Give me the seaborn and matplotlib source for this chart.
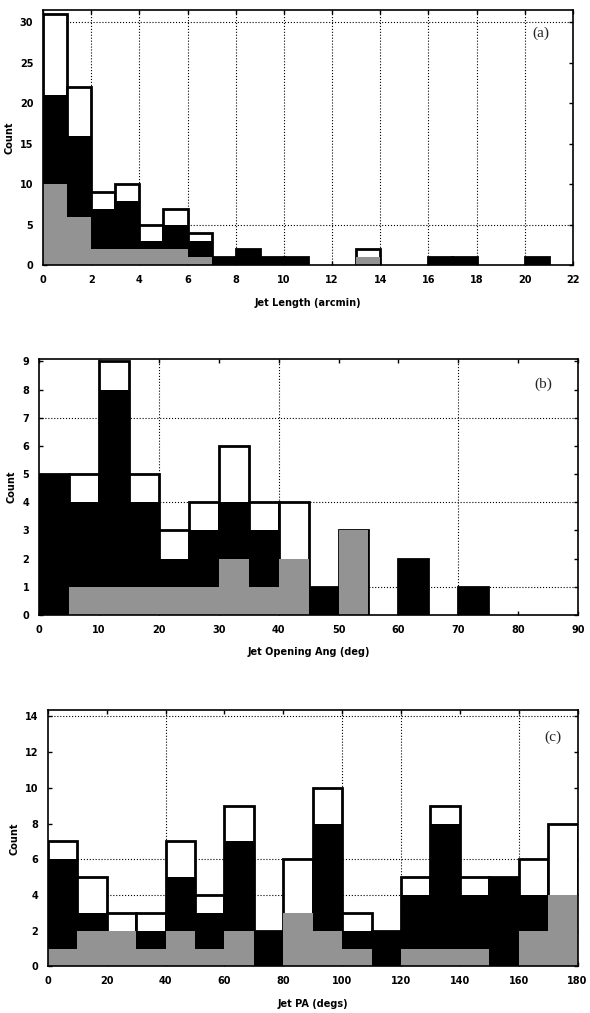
import numpy as np
import pandas as pd
import seaborn as sns
import matplotlib.pyplot as plt

# bin edges for each panel
len_edges = [0, 1, 2, 3, 4, 5, 6, 7, 8, 9, 10, 11, 12, 13, 14, 15, 16, 17, 18, 19, 20, 21, 22]
ang_edges = [0, 5, 10, 15, 20, 25, 30, 35, 40, 45, 50, 55, 60, 65, 70, 75, 80, 85, 90]
pa_edges = [0, 10, 20, 30, 40, 50, 60, 70, 80, 90, 100, 110, 120, 130, 140, 150, 160, 170, 180]

# (a) jet length counts
len_total = [31, 22, 9, 10, 5, 7, 4, 1, 2, 1, 1, 0, 0, 2, 0, 0, 1, 1, 0, 0, 1, 0]
len_black = [21, 16, 7, 8, 3, 5, 3, 1, 2, 1, 1, 0, 0, 1, 0, 0, 1, 1, 0, 0, 1, 0]
len_grey = [10, 6, 2, 2, 2, 2, 1, 0, 0, 0, 0, 0, 0, 1, 0, 0, 0, 0, 0, 0, 0, 0]

# (b) opening angle counts
ang_total = [5, 5, 9, 5, 3, 4, 6, 4, 4, 1, 3, 0, 2, 0, 1, 0, 0, 0]
ang_black = [5, 4, 8, 4, 2, 3, 4, 3, 2, 1, 0, 0, 2, 0, 1, 0, 0, 0]
ang_grey = [0, 1, 1, 1, 1, 1, 2, 1, 2, 0, 3, 0, 0, 0, 0, 0, 0, 0]

# (c) position angle counts
pa_total = [7, 5, 3, 3, 7, 4, 9, 2, 6, 10, 3, 2, 5, 9, 5, 5, 6, 8]
pa_black = [6, 3, 1, 2, 5, 3, 7, 2, 3, 8, 2, 2, 4, 8, 4, 5, 4, 4]
pa_grey = [1, 2, 2, 1, 2, 1, 2, 0, 3, 2, 1, 0, 1, 1, 1, 0, 2, 4]

sns.set_style('ticks')
plt.rcParams['font.family'] = ['DejaVu Sans']

fig = plt.figure(figsize=(5.9, 10.13), dpi=100)


def panel(ax, edges, total, black, grey, xlim, ylim, xticks, yticks,
          xlabel, tag, tag_xy, vgrid, hgrid):
    e = np.array(edges, dtype=float)
    df = pd.DataFrame({'x': (e[:-1] + e[1:]) / 2, 'total': total,
                       'black': black, 'grey': grey})
    for x in vgrid:
        ax.axvline(x, color='black', ls=':', lw=0.8, zorder=0)
    for y in hgrid:
        ax.axhline(y, color='black', ls=':', lw=0.8, zorder=0)
    sns.histplot(data=df, x='x', weights='total', bins=list(edges), ax=ax,
                 color='white', edgecolor='black', linewidth=2.0, alpha=1)
    sns.histplot(data=df, x='x', weights='black', bins=list(edges), ax=ax,
                 color='black', edgecolor='black', linewidth=0, alpha=1)
    sns.histplot(data=df, x='x', weights='grey', bins=list(edges), ax=ax,
                 color='#939393', linewidth=0, alpha=1)
    for p in list(ax.patches):
        if p.get_height() == 0:
            p.remove()
    ax.set_xlim(*xlim)
    ax.set_ylim(*ylim)
    ax.set_xticks(xticks)
    ax.set_yticks(yticks)
    ax.tick_params(direction='in', top=True, right=True, length=3, width=1,
                   labelsize=7, color='black', labelcolor='black', pad=7)
    for lab in ax.get_xticklabels() + ax.get_yticklabels():
        lab.set_fontweight('bold')
    for s in ax.spines.values():
        s.set_linewidth(1.2)
        s.set_color('black')
        s.set_zorder(5)
    ax.set_xlabel(xlabel, fontsize=7, fontweight='bold', color='black',
                  labelpad=9)
    ax.set_ylabel('Count', fontsize=7, fontweight='bold', color='black',
                  labelpad=4)
    ax.text(tag_xy[0], tag_xy[1], tag, transform=ax.transAxes, ha='center',
            va='center', fontsize=11, family='Liberation Serif')


ax1 = fig.add_axes([0.073, 0.738, 0.898, 0.252])
panel(ax1, len_edges, len_total, len_black, len_grey, (0, 22), (0, 31.5),
      range(0, 23, 2), range(0, 31, 5), 'Jet Length (arcmin)', '(a)',
      (0.94, 0.91), range(2, 21, 2), [5, 30])

ax2 = fig.add_axes([0.066, 0.393, 0.914, 0.253])
panel(ax2, ang_edges, ang_total, ang_black, ang_grey, (0, 90), (0, 9.1),
      range(0, 91, 10), range(0, 10), 'Jet Opening Ang (deg)', '(b)',
      (0.935, 0.90), [20, 40, 70], [1, 4, 7])

ax3 = fig.add_axes([0.081, 0.046, 0.898, 0.253])
panel(ax3, pa_edges, pa_total, pa_black, pa_grey, (0, 180), (0, 14.35),
      range(0, 181, 20), range(0, 15, 2), 'Jet PA (degs)', '(c)',
      (0.953, 0.895), [40, 100, 120, 160], [4, 6, 14])

fig.savefig('out.png', dpi=100)
